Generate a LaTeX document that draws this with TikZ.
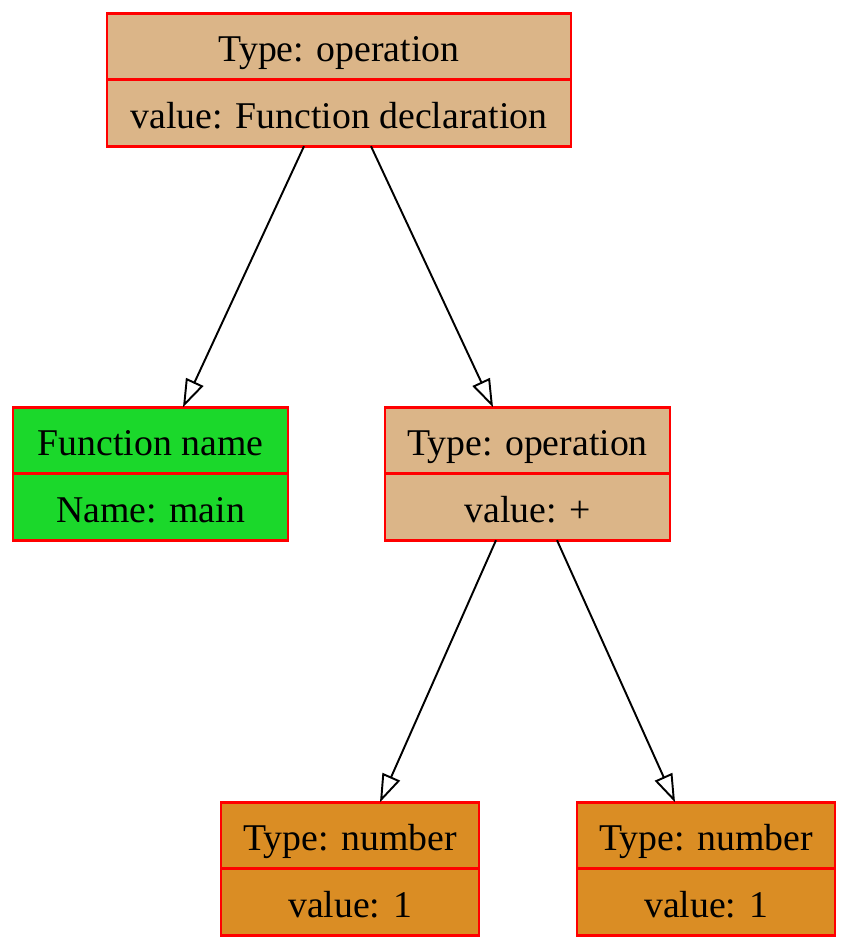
\documentclass[tikz,border=0pt]{standalone}
\usepackage{fontspec}
\setmainfont{Liberation Serif}
\usetikzlibrary{positioning,arrows.meta}
\definecolor{optan}{HTML}{DBB588}
\definecolor{namegreen}{HTML}{1BD82B}
\definecolor{numorange}{HTML}{DA8D24}
\begin{document}
\begin{tikzpicture}[x=0.02cm, y=-0.02cm,
    every node/.style={draw=red, line width=1.5pt, rectangle, minimum height=1.33cm, inner sep=0pt, outer sep=0pt, text height=22.6pt, text depth=5pt, font=\fontsize{21.5}{24}\selectfont},
    opbox/.style={fill=optan},
    namebox/.style={fill=namegreen, minimum width=5.5cm},
    numbox/.style={fill=numorange, minimum width=5.16cm},
    edge/.style={-{Triangle[open, length=0.56cm, width=0.38cm]}, line width=1.1pt}]
    \useasboundingbox (0,0) rectangle (847,950);
    % Nodes
    \node[opbox, minimum width=9.28cm] (roottype) at (339,46.5) {Type: operation};
    \node[opbox, minimum width=9.28cm, below=0pt of roottype] (rootval) {value: Function declaration};
    \node[namebox] (fnametype) at (150.5,440.5) {Function name};
    \node[namebox, below=0pt of fnametype] (fnameval) {Name: main};
    \node[opbox, minimum width=5.7cm] (plustype) at (527.5,440.5) {Type: operation};
    \node[opbox, minimum width=5.7cm, below=0pt of plustype] (plusval) {value: +};
    \node[numbox] (numatype) at (350,835.5) {Type: number};
    \node[numbox, below=0pt of numatype] (numaval) {value: 1};
    \node[numbox] (numbtype) at (706,835.5) {Type: number};
    \node[numbox, below=0pt of numbtype] (numbval) {value: 1};

    % Paths
    \draw[edge] ([xshift=-0.7cm]rootval.south) -- ([xshift=0.65cm]fnametype.north);
    \draw[edge] ([xshift=0.64cm]rootval.south) -- ([xshift=-0.69cm]plustype.north);
    \draw[edge] ([xshift=-0.63cm]plusval.south) -- ([xshift=0.6cm]numatype.north);
    \draw[edge] ([xshift=0.59cm]plusval.south) -- ([xshift=-0.62cm]numbtype.north);
\end{tikzpicture}
\end{document}
